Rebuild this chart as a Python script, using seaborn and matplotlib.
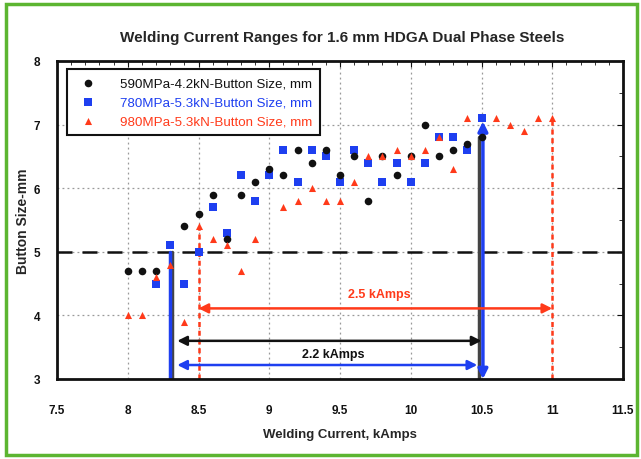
import numpy as np
import pandas as pd
import matplotlib
matplotlib.use("Agg")
import matplotlib.pyplot as plt
from matplotlib.patches import Rectangle
from matplotlib.ticker import MultipleLocator, FormatStrFormatter
import seaborn as sns

sns.set_style("white")
plt.rcParams['font.family'] = ['Liberation Sans', 'DejaVu Sans']

title = "Welding Current Ranges for 1.6 mm HDGA Dual Phase Steels"
xlabel = "Welding Current, kAmps"
ylabel = "Button Size-mm"

labels = ["590MPa-4.2kN-Button Size, mm",
          "780MPa-5.3kN-Button Size, mm",
          "980MPa-5.3kN-Button Size, mm"]

black_x = [8.0, 8.1, 8.2, 8.4, 8.5, 8.6, 8.7, 8.8, 8.9, 9.0, 9.1, 9.2, 9.3, 9.4,
           9.5, 9.6, 9.7, 9.8, 9.9, 10.0, 10.1, 10.2, 10.3, 10.4, 10.5]
black_y = [4.7, 4.7, 4.7, 5.4, 5.6, 5.9, 5.2, 5.9, 6.1, 6.3, 6.2, 6.6, 6.4, 6.6,
           6.2, 6.5, 5.8, 6.5, 6.2, 6.5, 7.0, 6.5, 6.6, 6.7, 6.8]

blue_x = [8.2, 8.3, 8.4, 8.5, 8.6, 8.7, 8.8, 8.9, 9.0, 9.1, 9.2, 9.3, 9.4, 9.5,
          9.6, 9.7, 9.8, 9.9, 10.0, 10.1, 10.2, 10.3, 10.4, 10.5]
blue_y = [4.5, 5.1, 4.5, 5.0, 5.7, 5.3, 6.2, 5.8, 6.2, 6.6, 6.1, 6.6, 6.5, 6.1,
          6.6, 6.4, 6.1, 6.4, 6.1, 6.4, 6.8, 6.8, 6.6, 7.1]

red_x = [8.0, 8.1, 8.2, 8.3, 8.4, 8.5, 8.6, 8.7, 8.8, 8.9, 9.1, 9.2, 9.3, 9.4,
         9.5, 9.6, 9.7, 9.8, 9.9, 10.0, 10.1, 10.2, 10.3, 10.4, 10.6, 10.7,
         10.8, 10.9, 11.0]
red_y = [4.0, 4.0, 4.6, 4.8, 3.9, 5.4, 5.2, 5.1, 4.7, 5.2, 5.7, 5.8, 6.0, 5.8,
         5.8, 6.1, 6.5, 6.5, 6.6, 6.5, 6.6, 6.8, 6.3, 7.1, 7.1, 7.0,
         6.9, 7.1, 7.1]

# annotation values
min_line_y = 5.0
range_black = (8.3, 10.5)
range_red = (8.5, 11.0)
label_22 = "2.2 kAmps"
label_25 = "2.5 kAmps"

BLACK = "#111111"
BLUE = "#1e3ff0"
RED = "#ff3a1a"

fig = plt.figure(figsize=(6.41, 4.60), dpi=100)
ax = fig.add_axes([57/641, 80/460, 566/641, 318/460])

# green frame around figure
fig.patches.append(Rectangle((6/641, 4/460), 631/641, 451/460, transform=fig.transFigure,
                             fill=False, edgecolor="#5cb531", linewidth=2.5))

ax.set_xlim(7.5, 11.5)
ax.set_ylim(3, 8)
ax.xaxis.set_major_locator(MultipleLocator(0.5))
ax.xaxis.set_minor_locator(MultipleLocator(0.1))
ax.yaxis.set_major_locator(MultipleLocator(1))
ax.yaxis.set_minor_locator(MultipleLocator(0.5))
ax.xaxis.set_major_formatter(FormatStrFormatter('%g'))
ax.yaxis.set_major_formatter(FormatStrFormatter('%g'))
ax.grid(True, which='major', linestyle=(0, (1.5, 2.5)), color="#999999", linewidth=0.9)
ax.set_axisbelow(True)
ax.tick_params(which='both', direction='in', top=True, right=True, colors=BLACK)
ax.tick_params(which='major', length=4, width=0.8)
ax.tick_params(which='minor', length=3, width=0.6)
ax.tick_params(axis='x', which='major', pad=18, labelsize=8.5)
ax.tick_params(axis='y', which='major', pad=12, labelsize=8.5)
for lab in ax.get_xticklabels() + ax.get_yticklabels():
    lab.set_fontweight('bold')
for s in ax.spines.values():
    s.set_linewidth(2.0)
    s.set_color(BLACK)

# horizontal dashed minimum line
ax.axhline(min_line_y, color=BLACK, linestyle=(0, (6, 4)), linewidth=1.8, zorder=2)

# vertical range lines
ax.plot([range_black[0] + 0.01, range_black[0] + 0.01], [3, min_line_y], color="#444444", linewidth=2.5, zorder=2)
ax.plot([range_black[0], range_black[0]], [3, min_line_y], color=BLUE, linewidth=2.5, zorder=2)
ax.plot([range_black[1] - 0.02, range_black[1] - 0.02], [3, 6.8], color="#444444", linewidth=2.5, zorder=2)
ax.annotate("", xy=(range_black[1] + 0.01, 7.05), xytext=(range_black[1] + 0.01, 3.0),
            arrowprops=dict(arrowstyle="<|-|>", color=BLUE, lw=2.5, mutation_scale=14,
                            shrinkA=0, shrinkB=0), zorder=2)
ax.plot([range_red[0], range_red[0]], [3, 5.4], color=RED, linestyle=(0, (2, 1.5)), linewidth=1.8, zorder=2)
ax.plot([range_red[1], range_red[1]], [3, 7.1], color=RED, linestyle=(0, (2, 1.5)), linewidth=1.8, zorder=2)

# horizontal double arrows
ax.annotate("", xy=(range_red[0], 4.11), xytext=(range_red[1], 4.11),
            arrowprops=dict(arrowstyle="<|-|>", color=RED, lw=1.8, mutation_scale=14,
                            shrinkA=0, shrinkB=0))
ax.annotate("", xy=(8.35, 3.6), xytext=(range_black[1], 3.6),
            arrowprops=dict(arrowstyle="<|-|>", color=BLACK, lw=1.8, mutation_scale=14,
                            shrinkA=0, shrinkB=0))
ax.annotate("", xy=(8.35, 3.22), xytext=(10.47, 3.22),
            arrowprops=dict(arrowstyle="<|-|>", color=BLUE, lw=1.8, mutation_scale=14,
                            shrinkA=0, shrinkB=0))
ax.text(9.78, 4.33, label_25, color=RED, fontsize=9, fontweight='bold', ha='center', va='center')
ax.text(9.45, 3.39, label_22, color=BLACK, fontsize=9, fontweight='bold', ha='center', va='center')

# data
sns.scatterplot(x=black_x, y=black_y, ax=ax, color=BLACK, marker='o', s=30,
                edgecolor=BLACK, linewidth=0, label=labels[0], zorder=4)
sns.scatterplot(x=blue_x, y=blue_y, ax=ax, color=BLUE, marker='s', s=38,
                edgecolor=BLUE, linewidth=0, label=labels[1], zorder=3)
sns.scatterplot(x=red_x, y=red_y, ax=ax, color=RED, marker='^', s=26,
                edgecolor=RED, linewidth=0, label=labels[2], zorder=5)

leg = ax.legend(loc='upper left', bbox_to_anchor=(0.017, 0.975), borderaxespad=0,
                frameon=True, fancybox=False, framealpha=1, edgecolor=BLACK,
                fontsize=9.6, labelcolor='markerfacecolor', handletextpad=1.4,
                labelspacing=0.5, borderpad=0.6, handlelength=2.0)
leg.get_frame().set_linewidth(1.5)

ax.set_xlabel(xlabel, fontsize=9.5, fontweight='bold', labelpad=9)
ax.set_ylabel(ylabel, fontsize=10, fontweight='bold', labelpad=3)
fig.text(0.534, 1 - 38/460, title, ha='center', va='center', fontsize=11, fontweight='bold')

fig.savefig("out.png", dpi=100)
